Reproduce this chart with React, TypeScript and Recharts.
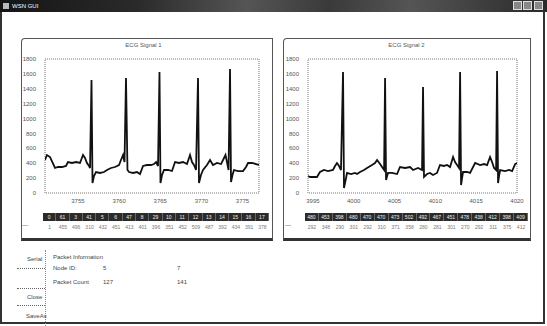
import React from 'react';
import { LineChart, Line, XAxis, YAxis, ReferenceArea } from 'recharts';

// ECG samples (time, amplitude)
const leftTime = [
  3751.0, 3751.24, 3751.61, 3752.22, 3752.58, 3753.07, 3753.55, 3753.79, 3754.28, 3754.77,
  3755.25, 3755.62, 3755.86, 3756.1, 3756.35, 3756.47, 3756.65, 3756.77, 3756.95, 3757.2,
  3757.68, 3758.17, 3758.53, 3759.02, 3759.51, 3759.99, 3760.23, 3760.48, 3760.66, 3760.84,
  3761.02, 3761.21, 3761.69, 3762.18, 3762.54, 3762.91, 3763.39, 3763.88, 3764.24, 3764.49,
  3764.73, 3764.91, 3765.03, 3765.22, 3765.46, 3765.95, 3766.43, 3766.8, 3767.28, 3767.77,
  3768.25, 3768.62, 3768.86, 3769.1, 3769.35, 3769.59, 3769.71, 3769.95, 3770.2, 3770.68,
  3771.05, 3771.41, 3771.9, 3772.39, 3772.75, 3772.93, 3773.11, 3773.3, 3773.48, 3773.6,
  3773.78, 3773.96, 3774.45, 3775.06, 3775.42, 3775.67, 3776.15, 3776.64, 3777.0,
];
const leftValue = [
  443, 510, 483, 336, 349, 349, 363, 416, 403, 416,
  403, 510, 470, 403, 363, 336, 1518, 134, 228, 282,
  269, 282, 309, 336, 349, 376, 443, 510, 416, 1544,
  309, 282, 269, 282, 255, 363, 376, 376, 389, 416,
  363, 1625, 134, 242, 309, 309, 295, 416, 403, 416,
  389, 510, 416, 376, 309, 1544, 134, 242, 309, 376,
  443, 376, 403, 389, 470, 510, 416, 309, 1665, 148,
  242, 309, 295, 295, 349, 403, 403, 389, 376,
];
const rightTime = [
  3994.4, 3994.65, 3995.14, 3995.5, 3995.87, 3996.36, 3996.85, 3997.46, 3997.71, 3997.95,
  3998.2, 3998.44, 3998.69, 3998.81, 3999.06, 3999.18, 3999.67, 4000.16, 4000.41, 4000.77,
  4001.26, 4001.63, 4002.24, 4002.61, 4002.86, 4003.23, 4003.47, 4003.72, 4003.84, 4003.96,
  4004.2, 4004.69, 4005.31, 4005.67, 4006.29, 4006.9, 4007.27, 4007.88, 4008.37, 4008.49,
  4008.61, 4008.98, 4009.35, 4009.71, 4010.2, 4010.57, 4011.06, 4011.43, 4011.8, 4012.17,
  4012.41, 4012.66, 4012.9, 4013.03, 4013.15, 4013.27, 4013.39, 4013.88, 4014.25, 4014.87,
  4015.48, 4015.97, 4016.34, 4016.7, 4016.95, 4017.19, 4017.44, 4017.56, 4017.68, 4017.8,
  4017.93, 4018.54, 4019.03, 4019.4, 4019.77, 4020.0,
];
const rightValue = [
  228, 215, 215, 215, 282, 309, 295, 309, 363, 403,
  363, 309, 1625, 67, 201, 269, 255, 269, 255, 282,
  309, 336, 376, 403, 443, 389, 349, 309, 1544, 175,
  269, 269, 255, 349, 336, 349, 309, 336, 309, 1424,
  215, 255, 269, 242, 269, 376, 363, 376, 349, 483,
  416, 376, 336, 1625, 107, 201, 282, 282, 269, 403,
  376, 389, 376, 483, 416, 336, 309, 1638, 134, 228,
  309, 295, 309, 295, 389, 403,
];

const yTicks = [0, 200, 400, 600, 800, 1000, 1200, 1400, 1600, 1800];
const leftXTicks = [3755, 3760, 3765, 3770, 3775];
const rightXTicks = [3995, 4000, 4005, 4010, 4015, 4020];

// packet grid under each chart
const leftHeader = ['0', '61', '3', '41', '5', '6', '47', '8', '29', '10', '11', '12', '13', '14', '15', '16', '17'];
const leftRow = ['1', '455', '496', '310', '432', '451', '413', '401', '396', '351', '452', '509', '487', '392', '434', '391', '378'];
const rightHeader = ['480', '453', '398', '480', '470', '470', '473', '502', '492', '467', '451', '478', '438', '412', '398', '409'];
const rightRow = ['292', '348', '290', '301', '292', '310', '371', '358', '280', '281', '301', '270', '292', '311', '375', '412'];

const nodeIds = ['5', '7'];
const packetCounts = ['127', '141'];

const uiFont = '"Liberation Sans", Arial, sans-serif';

const toRows = (t: number[], v: number[]) => t.map((x, i) => ({ t: x, v: v[i] }));

const EcgChart = ({ title, data, domain, xTicks, left, width, yWidth }: any) => (
  <div style={{ position: 'absolute', left, top: 40, width }}>
    <div style={{ position: 'absolute', left: 0, width, top: 2, textAlign: 'center', fontSize: 6, color: '#555', fontFamily: uiFont }}>
      {title}
    </div>
    <div style={{ position: 'absolute', left: 0, top: 12 }}>
      <LineChart width={width} height={162} data={data} margin={{ top: 7, right: 13, left: 0, bottom: 0 }}>
        <XAxis
          type="number"
          dataKey="t"
          domain={domain}
          ticks={xTicks}
          allowDataOverflow
          axisLine={false}
          tickLine={false}
          height={21}
          tick={{ fontSize: 6, fill: '#555', fontFamily: uiFont }}
          tickMargin={0}
        />
        <YAxis
          domain={[0, 1800]}
          ticks={yTicks}
          axisLine={false}
          tickLine={false}
          width={yWidth}
          tick={{ fontSize: 6, fill: '#555', fontFamily: uiFont }}
          tickMargin={3}
        />
        <ReferenceArea x1={domain[0]} x2={domain[1]} y1={0} y2={1800} fill="none" stroke="#777" strokeDasharray="1 1" />
        <Line type="linear" dataKey="v" stroke="#111" strokeWidth={1.8} dot={false} isAnimationActive={false} />
      </LineChart>
    </div>
  </div>
);

const Grid = ({ left, top, width, header, row }: any) => (
  <div style={{ position: 'absolute', left, top, width, fontFamily: uiFont }}>
    <div style={{ display: 'flex', background: '#2b2b2b', height: 8 }}>
      {header.map((h: string, i: number) => (
        <div key={i} style={{ flex: 1, borderRight: '1px solid #666', color: '#eee', fontSize: 5, lineHeight: '8px', textAlign: 'center' }}>
          {h}
        </div>
      ))}
    </div>
    <div style={{ display: 'flex', height: 8, marginTop: 2 }}>
      {row.map((h: string, i: number) => (
        <div key={i} style={{ flex: 1, color: '#777', fontSize: 5, lineHeight: '8px', textAlign: 'center' }}>
          {h}
        </div>
      ))}
    </div>
  </div>
);

const Panel = ({ left, width }: any) => (
  <div
    style={{
      position: 'absolute',
      left,
      top: 38,
      width,
      height: 203,
      border: '1px solid #555',
      borderBottom: '3px solid #333',
      borderTopLeftRadius: 4,
      boxSizing: 'border-box',
      background: '#fff',
    }}
  />
);

const label = (text: string, left: number, top: number, color = '#444') => (
  <div style={{ position: 'absolute', left, top, fontSize: 6, color, fontFamily: uiFont, whiteSpace: 'nowrap' }}>{text}</div>
);

export default function App() {
  const leftData = toRows(leftTime, leftValue);
  const rightData = toRows(rightTime, rightValue);
  return (
    <div style={{ position: 'absolute', left: 0, top: 0, width: 547, height: 326, background: '#fff', overflow: 'hidden' }}>
      {/* title bar */}
      <div
        style={{
          position: 'absolute',
          left: 0,
          top: 0,
          width: 547,
          height: 12,
          background: 'linear-gradient(to right, #151515, #2a2a2a 25%, #555 45%, #3a3a3a 60%, #555 75%, #2a2a2a)',
        }}
      />
      <div style={{ position: 'absolute', left: 3, top: 3, width: 6, height: 6, background: '#bbb' }} />
      {label('WSN GUI', 12, 3, '#fff')}
      {[513, 523, 534].map((x) => (
        <div key={x} style={{ position: 'absolute', left: x, top: 1, width: 9, height: 9, background: '#888', border: '1px solid #ddd', boxSizing: 'border-box' }} />
      ))}
      {/* window frame */}
      <div style={{ position: 'absolute', left: 0, top: 12, width: 545, height: 312, borderLeft: '2px solid #333', borderRight: '2px solid #333', borderBottom: '2px solid #333', boxSizing: 'border-box' }} />

      <Panel left={21} width={252} />
      <Panel left={283} width={248} />

      <EcgChart title="ECG Signal 1" data={leftData} domain={[3751, 3777]} xTicks={leftXTicks} left={15} width={257} yWidth={30} />
      <EcgChart title="ECG Signal 2" data={rightData} domain={[3994.4, 4020]} xTicks={rightXTicks} left={283} width={247} yWidth={25} />

      <Grid left={43} top={213} width={226} header={leftHeader} row={leftRow} />
      <Grid left={305} top={213} width={223} header={rightHeader} row={rightRow} />
      {label('—', 22, 222)}
      {label('—', 285, 222)}

      {/* bottom controls */}
      <div style={{ position: 'absolute', left: 45, top: 250, height: 76, borderLeft: '1px dotted #888' }} />
      {[268, 288, 305].map((y) => (
        <div key={y} style={{ position: 'absolute', left: 17, top: y, width: 28, borderTop: '1px dotted #666' }} />
      ))}
      {label('Serial', 27, 256)}
      {label('Close', 27, 294)}
      {label('SaveAs', 26, 313)}
      {label('Packet Information', 53, 254)}
      {label('Node ID:', 53, 265)}
      {label('Packet Count', 53, 279)}
      {label(nodeIds[0], 103, 265)}
      {label(nodeIds[1], 177, 265)}
      {label(packetCounts[0], 103, 279)}
      {label(packetCounts[1], 177, 279)}
    </div>
  );
}
